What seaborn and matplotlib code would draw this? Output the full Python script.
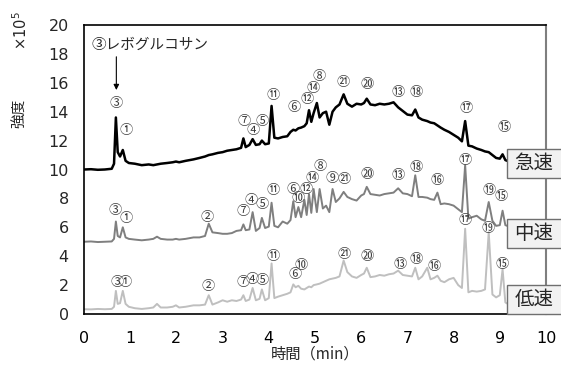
import matplotlib
matplotlib.use("Agg")
import matplotlib.pyplot as plt
import pandas as pd
import seaborn as sns
from matplotlib.patches import Rectangle

# Retention time grid (min)
time_min = [
    0.00, 0.15, 0.30, 0.45, 0.60, 0.65, 0.69, 0.73, 0.78, 0.84,
    0.90, 0.97, 1.10, 1.25, 1.40, 1.50, 1.58, 1.66, 1.80, 1.92,
    1.99, 2.06, 2.20, 2.37, 2.50, 2.62, 2.70, 2.78, 2.90, 3.00,
    3.10, 3.20, 3.30, 3.40, 3.45, 3.50, 3.58, 3.65, 3.72, 3.80,
    3.85, 3.92, 4.00, 4.06, 4.12, 4.20, 4.30, 4.40, 4.47, 4.53,
    4.58, 4.64, 4.70, 4.77, 4.82, 4.87, 4.92, 4.97, 5.04, 5.10,
    5.17, 5.24, 5.31, 5.38, 5.45, 5.53, 5.62, 5.70, 5.80, 5.90,
    6.00, 6.06, 6.12, 6.20, 6.30, 6.40, 6.50, 6.60, 6.70, 6.80,
    6.90, 7.00, 7.10, 7.17, 7.24, 7.32, 7.43, 7.50, 7.58, 7.65,
    7.72, 7.80, 7.90, 8.00, 8.10, 8.18, 8.25, 8.32, 8.40, 8.50,
    8.60, 8.68, 8.76, 8.84, 8.92, 9.00, 9.06, 9.12, 9.20,
]

# Intensity (x10^5) for each heating rate
fast = [
    10.00, 10.02, 9.98, 10.00, 10.05, 10.40, 13.60, 11.20, 10.90, 11.35,
    10.60, 10.45, 10.40, 10.30, 10.35, 10.30, 10.35, 10.40, 10.45, 10.50,
    10.55, 10.50, 10.60, 10.70, 10.80, 10.90, 11.00, 11.05, 11.15, 11.20,
    11.30, 11.35, 11.40, 11.50, 12.15, 11.55, 11.70, 12.10, 11.70, 11.75,
    12.00, 11.75, 11.80, 14.40, 12.20, 12.15, 12.25, 12.30, 12.60, 12.75,
    12.70, 12.85, 12.90, 13.00, 13.20, 14.10, 13.30, 13.90, 14.60, 13.60,
    13.90, 14.00, 13.10, 14.00, 14.30, 14.50, 15.20, 14.55, 14.35, 14.55,
    14.50, 14.60, 14.90, 14.50, 14.45, 14.55, 14.50, 14.55, 14.65, 14.30,
    14.05, 13.80, 13.75, 14.15, 13.60, 13.45, 13.35, 13.25, 13.20, 13.05,
    12.90, 12.75, 12.60, 12.40, 12.20, 11.95, 13.35, 11.65, 11.60, 11.45,
    11.35, 11.25, 11.20, 11.00, 10.80, 10.75, 11.05, 10.65, 10.55,
]
medium = [
    5.00, 5.02, 4.98, 5.00, 5.02, 5.20, 6.40, 5.40, 5.30, 6.00,
    5.30, 5.20, 5.15, 5.10, 5.15, 5.20, 5.35, 5.20, 5.15, 5.15,
    5.20, 5.15, 5.20, 5.30, 5.30, 5.40, 6.25, 5.65, 5.60, 5.55,
    5.55, 5.60, 5.75, 5.80, 6.20, 5.80, 5.85, 7.05, 5.75, 5.95,
    6.65, 5.95, 6.05, 7.70, 6.10, 6.00, 6.40, 6.25, 6.50, 7.80,
    6.70, 7.40, 6.70, 7.90, 6.85, 8.30, 7.00, 8.65, 7.05, 8.65,
    7.30, 7.50, 7.05, 8.65, 7.75, 8.00, 8.45, 8.10, 7.95, 7.85,
    8.20, 8.30, 8.80, 8.30, 8.25, 8.20, 8.30, 8.35, 8.40, 8.70,
    8.35, 8.30, 8.15, 9.60, 8.10, 8.10, 8.05, 7.95, 7.90, 8.40,
    7.60, 7.65, 7.60, 7.50, 7.25, 7.05, 10.30, 6.60, 6.70, 6.80,
    6.55, 6.45, 7.75, 6.45, 6.10, 6.15, 7.15, 6.15, 6.05,
]
slow = [
    0.33, 0.32, 0.35, 0.33, 0.35, 0.50, 1.60, 0.70, 0.75, 1.60,
    0.70, 0.50, 0.40, 0.35, 0.40, 0.45, 0.70, 0.45, 0.45, 0.50,
    0.60, 0.45, 0.50, 0.60, 0.60, 0.65, 1.30, 0.65, 0.80, 0.95,
    0.85, 0.95, 0.90, 1.00, 1.30, 0.90, 1.00, 1.80, 0.95, 1.05,
    1.70, 0.95, 1.10, 3.50, 1.10, 1.20, 1.30, 1.40, 1.50, 2.05,
    1.85, 1.95, 1.75, 1.70, 1.80, 1.90, 1.85, 2.00, 2.05, 2.10,
    2.20, 2.30, 2.40, 2.45, 2.50, 2.60, 3.70, 2.90, 2.60, 2.50,
    2.70, 2.80, 3.20, 2.55, 2.60, 2.70, 2.65, 2.75, 2.80, 3.00,
    2.70, 2.65, 2.60, 3.20, 2.40, 2.60, 3.20, 2.40, 2.50, 2.65,
    2.30, 2.20, 2.40, 2.50, 2.00, 1.80, 5.90, 1.50, 1.60, 1.55,
    1.60, 1.70, 5.65, 1.35, 1.15, 1.30, 3.10, 0.80, 0.65,
]

rate_names = ["急速", "中速", "低速"]
rate_colors = ["#000000", "#7f7f7f", "#bfbfbf"]

# Peak numbers with their label anchor (time, intensity)
fast_peak_names = ["③", "①", "⑦", "④", "⑤", "⑪", "⑥", "⑫", "⑭", "⑧",
                   "㉑", "⑳", "⑬", "⑱", "⑰", "⑮"]
fast_peak_t = [0.70, 0.91, 3.46, 3.67, 3.85, 4.09, 4.55, 4.83, 4.95, 5.09,
               5.62, 6.12, 6.81, 7.20, 8.28, 9.09]
fast_peak_y = [14.6, 12.7, 13.35, 12.7, 13.3, 15.15, 14.3, 14.85, 15.6, 16.45,
               16.0, 15.9, 15.3, 15.3, 14.2, 12.9]

medium_peak_names = ["③", "①", "②", "⑦", "④", "⑤", "⑪", "⑥", "⑩", "⑫",
                     "⑭", "⑧", "⑨", "㉑", "⑳", "⑬", "⑱", "⑯", "⑰", "⑲", "⑮"]
medium_peak_t = [0.67, 0.91, 2.67, 3.45, 3.62, 3.85, 4.09, 4.52, 4.64, 4.80,
                 4.93, 5.11, 5.37, 5.64, 6.13, 6.80, 7.18, 7.65, 8.25, 8.77, 9.03]
medium_peak_y = [7.15, 6.6, 6.65, 7.1, 7.85, 7.55, 8.55, 8.6, 8.0, 8.6,
                 9.35, 10.2, 9.4, 9.3, 9.65, 9.6, 10.15, 9.25, 10.65, 8.55, 8.1]

slow_peak_names = ["③", "①", "②", "⑦", "④", "⑤", "⑪", "⑥", "⑩", "㉑",
                   "⑳", "⑬", "⑱", "⑯", "⑰", "⑲", "⑮"]
slow_peak_t = [0.72, 0.90, 2.68, 3.44, 3.63, 3.85, 4.09, 4.57, 4.71, 5.64,
               6.14, 6.85, 7.18, 7.58, 8.25, 8.74, 9.06]
slow_peak_y = [2.15, 2.15, 1.9, 2.15, 2.4, 2.35, 3.95, 2.7, 3.35, 4.15,
               3.95, 3.45, 3.8, 3.3, 6.45, 5.9, 3.45]

x_ticks = [0, 1, 2, 3, 4, 5, 6, 7, 8, 9, 10]
y_ticks = [0, 2, 4, 6, 8, 10, 12, 14, 16, 18, 20]

sns.set_style("white")
plt.rcParams["font.family"] = ["DejaVu Sans", "Noto Sans CJK JP"]
jp_font = ["Noto Sans CJK JP", "DejaVu Sans"]

frames = []
for name, values in zip(rate_names, [fast, medium, slow]):
    frames.append(pd.DataFrame({"time": time_min, "intensity": values, "rate": name}))
data = pd.concat(frames, ignore_index=True)

fig = plt.figure(figsize=(5.61, 3.67), dpi=100)
ax = fig.add_axes([84 / 561, 1 - 314 / 367, (546 - 84) / 561, (314 - 25) / 367])

# Draw slow first so the fast trace sits on top
for name, color, lw in zip(rate_names[::-1], rate_colors[::-1], [1.4, 1.4, 1.8]):
    sns.lineplot(data=data[data["rate"] == name], x="time", y="intensity",
                 color=color, linewidth=lw, estimator=None, sort=False, ax=ax)

ax.set_xlim(0, 10)
ax.set_ylim(0, 20)
ax.set_xticks(x_ticks)
ax.set_yticks(y_ticks)
ax.tick_params(axis="x", direction="in", length=4, width=1, pad=12,
               labelsize=11.5, colors="#000000")
ax.tick_params(axis="y", length=0, pad=11, labelsize=11.5)
ax.set_xlabel("時間（min）", fontsize=11, family=jp_font, labelpad=0)
ax.set_ylabel("")
for side in ["left", "bottom", "top"]:
    ax.spines[side].set_color("#000000")
    ax.spines[side].set_linewidth(1.2)
ax.spines["right"].set_color("#7f7f7f")
ax.spines["right"].set_linewidth(1.5)

# Peak number labels
for names, ts, ys in [(fast_peak_names, fast_peak_t, fast_peak_y),
                      (medium_peak_names, medium_peak_t, medium_peak_y),
                      (slow_peak_names, slow_peak_t, slow_peak_y)]:
    for n, t, y in zip(names, ts, ys):
        ax.text(t, y, n, ha="center", va="center", fontsize=9.5,
                color="#3a3a3a", family=jp_font)

# Levoglucosan callout
ax.text(0.17, 18.6, "③レボグルコサン", ha="left", va="center",
        fontsize=10.5, family=jp_font)
ax.annotate("", xy=(0.7, 15.5), xytext=(0.7, 17.8),
            arrowprops=dict(arrowstyle="-|>", color="#000000", lw=0.8,
                            mutation_scale=8, shrinkA=0, shrinkB=0))

# Axis caption on the left
fig.text(20 / 561, 1 - 113 / 367, "強度", rotation=90, ha="center", va="center",
         fontsize=10.5, family=jp_font)
fig.text(21 / 561, 1 - 31 / 367, "×10$^5$", rotation=90, ha="center",
         va="center", fontsize=10.5)

# Heating-rate boxes along the right edge
box_centers = [163.5, 233.5, 299.5]
for name, cy in zip(rate_names, box_centers):
    x0, w, h = 507, 56, 29
    fig.patches.append(Rectangle((x0 / 561, 1 - (cy + h / 2) / 367), w / 561, h / 367,
                                 transform=fig.transFigure, facecolor="#f2f2f2",
                                 edgecolor="#6f6f6f", linewidth=1.0, zorder=5))
    fig.text((x0 + 27) / 561, 1 - cy / 367, name, ha="center", va="center",
             fontsize=14, family=jp_font, zorder=6)

fig.savefig("out.png", dpi=100)
